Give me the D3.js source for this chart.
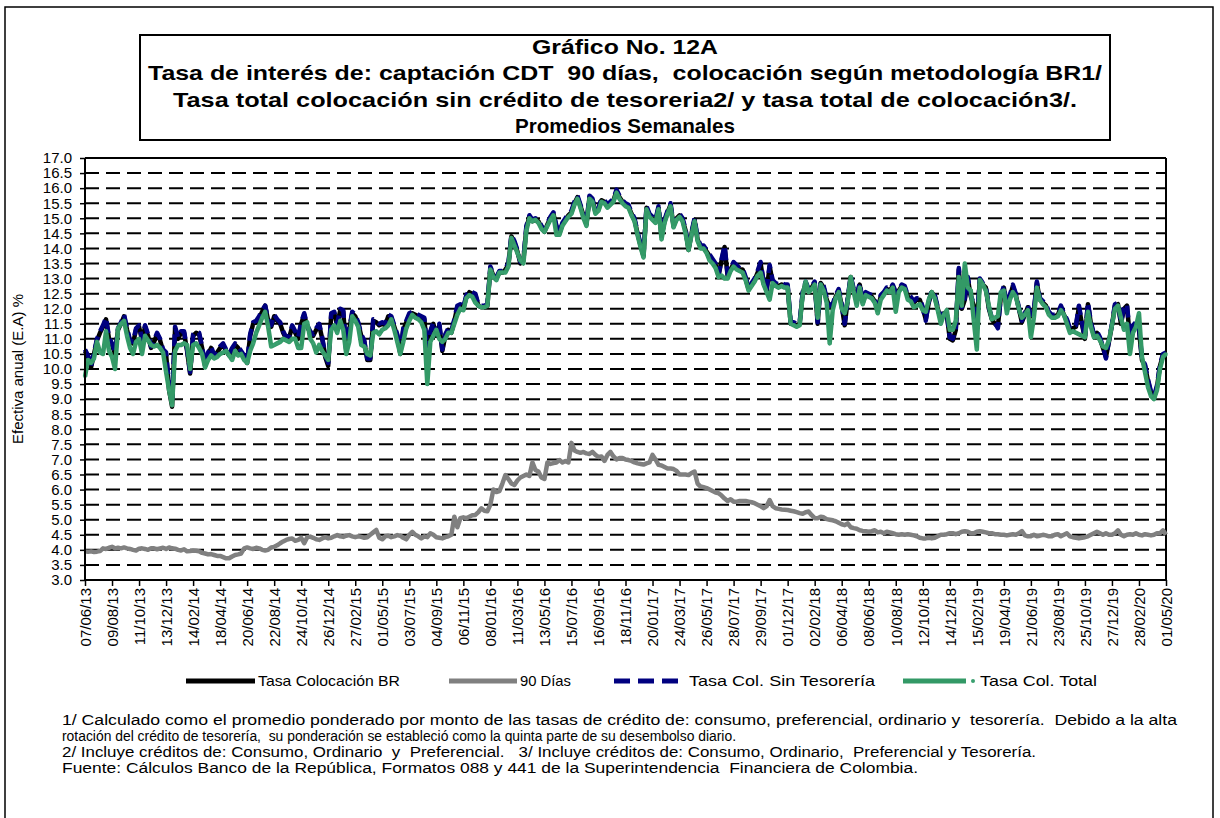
<!DOCTYPE html>
<html><head><meta charset="utf-8">
<script src="https://cdn.jsdelivr.net/npm/d3@7"></script>
<style>
body{margin:0;background:#fff;}
svg{display:block;}
text{font-family:"Liberation Sans",Arial,sans-serif;fill:#000;}
</style>
</head><body>
<svg id="c" width="1220" height="818"></svg>
<script>
// ---------- DATA ----------
const startDate = "2013-06-07"; // first weekly category
const tickLabels = ["07/06/13","09/08/13","11/10/13","13/12/13","14/02/14","18/04/14","20/06/14","22/08/14","24/10/14","26/12/14","27/02/15","01/05/15","03/07/15","04/09/15","06/11/15","08/01/16","11/03/16","13/05/16","15/07/16","16/09/16","18/11/16","20/01/17","24/03/17","26/05/17","28/07/17","29/09/17","01/12/17","02/02/18","06/04/18","08/06/18","10/08/18","12/10/18","14/12/18","15/02/19","19/04/19","21/06/19","23/08/19","25/10/19","27/12/19","28/02/20","01/05/20"];
const seriesNames = ["Tasa Colocación BR","90 Días","Tasa Col. Sin Tesorería","Tasa Col. Total"];

const tasaColocacionBR = [
10.6,10.4,10.05,10.5,10.95,11.2,11.4,11.65,11.0,10.8,
10.5,11.3,11.5,11.75,11.3,10.9,10.85,11.3,11.4,10.95,
11.4,11.1,10.7,10.9,11.15,10.95,10.6,10.5,9.3,8.75,
11.35,11.0,11.2,11.2,10.6,9.85,11.1,11.2,11.15,10.7,
10.1,10.5,10.7,10.4,10.55,10.7,10.8,10.6,10.45,10.65,
10.8,10.7,10.55,10.4,10.2,11.1,11.5,11.55,11.7,11.9,
12.1,11.6,11.4,11.75,11.6,11.5,11.2,11.0,11.05,11.4,
11.2,11.0,11.5,11.8,11.4,11.2,11.1,11.3,11.45,11.0,
10.4,10.1,11.8,11.85,11.45,11.95,11.9,10.6,11.3,11.85,
11.75,11.5,11.1,10.9,10.3,10.3,11.6,11.55,11.45,11.5,
11.45,11.75,11.7,11.4,11.1,10.5,11.3,11.55,11.8,11.85,
11.8,11.75,11.7,11.65,10.6,11.2,11.5,11.1,11.45,10.6,
11.1,11.3,11.2,11.6,12.05,12.1,12.0,12.4,12.55,12.5,
12.45,12.1,12.05,12.05,12.1,13.35,13.1,13.0,13.2,13.2,
13.3,13.45,14.4,14.2,13.9,13.5,13.6,14.7,15.05,14.9,
14.95,14.9,14.7,14.55,14.8,15.0,15.15,14.7,14.5,14.8,
14.95,15.1,15.2,15.5,15.7,15.4,15.1,14.8,15.7,15.6,
15.2,15.3,15.6,15.55,15.4,15.5,15.6,15.9,15.7,15.55,
15.45,15.4,15.15,14.95,14.5,14.1,13.75,15.35,15.1,15.0,
14.9,15.35,14.4,14.9,15.2,15.45,14.75,15.0,15.1,14.95,
14.6,13.95,14.5,14.95,14.3,14.05,14.05,13.9,13.75,13.6,
13.45,13.1,13.6,14.05,13.1,13.3,13.5,13.4,13.3,13.3,
13.0,12.65,12.8,12.95,13.2,13.5,12.85,12.6,13.4,12.9,
12.8,12.75,12.8,12.75,12.75,11.5,11.5,11.45,11.5,12.5,
12.85,12.6,12.7,12.85,11.5,12.85,12.7,12.3,12.05,12.1,
12.4,12.6,12.1,11.45,12.3,13.05,12.6,12.4,12.8,12.2,
12.5,12.45,12.4,12.25,12.0,12.4,12.5,12.65,12.6,12.75,
12.5,12.6,12.75,12.7,12.4,12.35,12.2,12.3,12.3,12.0,
11.65,12.2,12.55,12.4,12.0,11.65,11.85,11.8,11.0,10.95,
11.3,13.3,12.0,12.3,13.0,12.4,12.1,11.5,12.95,12.8,
12.7,12.0,11.65,11.5,11.4,12.4,12.7,12.05,12.4,12.75,
12.45,12.0,11.55,11.8,12.05,11.75,11.9,12.85,12.3,12.2,
12.1,11.85,11.75,11.75,11.8,12.05,11.8,11.6,11.3,11.35,
11.4,12.05,11.5,11.0,12.15,11.5,11.1,11.2,11.0,10.7,
10.4,10.9,11.45,12.1,12.15,11.5,12.0,12.1,11.0,11.4,
11.5,11.3,10.3,10.1,9.6,9.2,9.05,9.4,10.1,10.45,10.5];

const dias90 = [
3.95,3.94,3.95,3.93,3.94,3.96,4.05,4.03,4.07,4.1,
4.05,4.07,4.05,4.08,4.05,4.03,4.0,3.98,4.04,4.05,
4.03,4.0,4.05,4.05,4.02,4.05,4.07,4.03,4.08,4.05,
4.04,4.0,3.98,4.02,3.95,3.96,3.98,3.97,3.95,3.9,
3.88,3.85,3.86,3.83,3.8,3.8,3.76,3.72,3.72,3.78,
3.83,3.85,3.88,4.05,4.08,4.05,4.03,4.07,4.05,4.0,
3.98,4.0,4.08,4.1,4.15,4.22,4.28,4.33,4.36,4.38,
4.3,4.33,4.4,4.22,4.42,4.44,4.4,4.35,4.33,4.38,
4.42,4.38,4.4,4.45,4.49,4.45,4.43,4.47,4.49,4.45,
4.42,4.45,4.43,4.4,4.42,4.5,4.58,4.66,4.4,4.35,
4.45,4.47,4.42,4.45,4.49,4.47,4.4,4.35,4.5,4.6,
4.5,4.45,4.38,4.45,4.42,4.55,4.5,4.42,4.4,4.38,
4.42,4.45,4.5,5.1,4.75,5.05,5.08,5.05,5.1,5.15,
5.16,5.25,5.38,5.3,5.28,5.5,6.0,5.92,5.95,6.2,
6.48,6.35,6.2,6.15,6.3,6.4,6.45,6.5,6.45,6.9,
6.65,6.6,6.4,6.35,6.9,6.85,6.88,6.9,6.98,6.9,
6.95,6.9,7.55,7.3,7.25,7.22,7.25,7.2,7.18,7.25,
7.15,7.08,7.1,6.95,7.15,7.25,7.1,7.0,7.05,7.05,
7.0,6.98,6.95,6.9,6.87,6.85,6.83,6.87,6.9,7.15,
7.0,6.82,6.8,6.75,6.7,6.7,6.68,6.62,6.5,6.5,
6.5,6.48,6.55,6.6,6.2,6.1,6.08,6.05,6.0,5.95,
5.9,5.88,5.8,5.7,5.62,5.68,5.6,5.6,5.62,5.62,
5.62,5.6,5.58,5.55,5.5,5.45,5.38,5.45,5.65,5.45,
5.38,5.36,5.34,5.33,5.32,5.3,5.28,5.25,5.22,5.2,
5.25,5.27,5.15,5.05,5.05,5.1,5.08,5.02,5.0,4.98,
4.95,4.9,4.85,4.82,4.88,4.75,4.72,4.7,4.65,4.63,
4.62,4.6,4.62,4.65,4.58,4.6,4.55,4.6,4.58,4.55,
4.52,4.5,4.52,4.5,4.52,4.5,4.48,4.45,4.4,4.38,
4.38,4.4,4.38,4.4,4.45,4.5,4.5,4.52,4.55,4.55,
4.52,4.55,4.6,4.62,4.6,4.55,4.55,4.6,4.62,4.6,
4.58,4.55,4.55,4.52,4.52,4.5,4.5,4.48,4.5,4.52,
4.5,4.55,4.62,4.48,4.45,4.45,4.5,4.45,4.47,4.5,
4.48,4.45,4.45,4.5,4.52,4.45,4.5,4.55,4.45,4.42,
4.4,4.38,4.4,4.42,4.45,4.5,4.55,4.6,4.55,4.5,
4.55,4.5,4.5,4.55,4.65,4.5,4.45,4.5,4.52,4.5,
4.55,4.5,4.48,4.52,4.5,4.48,4.5,4.55,4.55,4.65,4.5];

const tasaColSinTesoreria = [
10.65,10.45,10.1,10.55,11.0,11.25,11.45,11.7,11.05,10.85,
10.55,11.35,11.55,11.8,11.35,10.95,10.9,11.35,11.45,11.0,
11.45,11.15,10.75,10.95,11.2,11.0,10.65,10.55,9.45,9.0,
11.4,11.05,11.25,11.25,10.65,9.9,11.15,11.25,11.2,10.75,
10.15,10.55,10.75,10.45,10.6,10.75,10.85,10.65,10.5,10.7,
10.85,10.75,10.6,10.45,10.25,11.15,11.55,11.6,11.75,11.95,
12.1,11.65,11.45,11.8,11.65,11.55,11.25,11.05,11.1,11.45,
11.25,11.05,11.55,11.85,11.45,11.25,11.15,11.35,11.5,11.05,
10.45,10.2,11.85,11.9,11.5,12.0,11.95,10.65,11.35,11.9,
11.8,11.55,11.15,10.95,10.35,10.35,11.65,11.6,11.5,11.55,
11.5,11.8,11.75,11.45,11.15,10.55,11.35,11.6,11.85,11.9,
11.85,11.8,11.75,11.7,10.65,11.25,11.55,11.15,11.5,10.65,
11.15,11.35,11.25,11.65,12.1,12.15,12.05,12.45,12.6,12.55,
12.5,12.15,12.1,12.1,12.15,13.4,13.15,13.05,13.25,13.25,
13.35,13.5,14.45,14.25,13.95,13.55,13.65,14.75,15.1,14.95,
15.0,14.95,14.75,14.6,14.85,15.05,15.2,14.75,14.55,14.85,
15.0,15.15,15.25,15.55,15.75,15.45,15.15,14.85,15.75,15.65,
15.25,15.35,15.65,15.6,15.45,15.55,15.65,15.95,15.75,15.6,
15.5,15.45,15.2,15.0,14.55,14.15,13.8,15.4,15.15,15.05,
14.95,15.4,14.45,14.95,15.25,15.5,14.8,15.05,15.15,15.0,
14.65,14.0,14.55,15.0,14.35,14.1,14.1,13.95,13.8,13.65,
13.5,13.15,13.65,14.1,13.15,13.35,13.55,13.45,13.35,13.35,
13.05,12.7,12.85,13.0,13.25,13.55,12.9,12.65,13.45,12.95,
12.85,12.8,12.85,12.8,12.8,11.55,11.55,11.5,11.55,12.55,
12.9,12.65,12.75,12.9,11.55,12.9,12.75,12.35,12.1,12.15,
12.45,12.65,12.15,11.5,12.35,13.1,12.65,12.45,12.85,12.25,
12.55,12.5,12.45,12.3,12.05,12.45,12.55,12.7,12.65,12.8,
12.55,12.65,12.8,12.75,12.45,12.4,12.25,12.35,12.35,12.05,
11.6,12.25,12.6,12.45,12.05,11.7,11.9,11.85,11.05,11.0,
11.35,13.35,12.05,12.35,13.05,12.45,12.15,11.55,13.0,12.85,
12.75,12.05,11.7,11.55,11.35,12.45,12.75,12.1,12.45,12.8,
12.5,12.05,11.6,11.85,12.1,11.8,11.95,12.9,12.35,12.25,
12.15,11.9,11.8,11.8,11.85,12.1,11.85,11.65,11.35,11.4,
11.45,12.1,11.55,11.05,12.2,11.55,11.15,11.25,11.05,10.75,
10.35,10.95,11.5,12.15,12.2,11.55,12.05,12.15,11.05,11.45,
11.55,11.4,10.35,10.15,9.65,9.25,9.1,9.45,10.15,10.5,10.55];

const tasaColTotal = [
9.75,10.3,10.2,10.35,10.9,10.55,10.5,11.25,10.6,10.4,
10.0,11.35,11.5,11.6,11.1,10.7,10.5,10.9,11.0,10.5,
11.1,10.95,10.8,10.75,10.8,10.7,10.55,9.9,9.3,8.8,
10.6,10.8,10.8,10.85,10.8,10.0,10.8,10.85,10.7,10.5,
10.05,10.3,10.45,10.35,10.4,10.5,10.55,10.6,10.45,10.3,
10.6,10.45,10.5,10.3,10.2,10.6,10.85,11.2,11.45,11.7,
11.9,11.4,10.75,10.8,10.85,10.9,11.0,10.95,10.9,11.0,
11.0,10.7,10.7,11.5,11.55,11.0,10.85,10.55,10.8,10.6,
10.45,10.3,11.3,11.45,11.2,11.6,11.3,10.5,10.9,11.75,
11.6,11.4,10.8,10.75,10.5,10.45,11.2,11.25,11.15,11.3,
11.35,11.45,11.65,11.3,10.9,10.5,10.9,11.35,11.6,11.8,
11.7,11.65,11.55,11.3,9.5,10.9,11.1,11.3,11.0,10.9,
11.0,11.2,11.2,11.5,11.8,12.0,11.95,12.35,12.45,12.4,
12.2,12.1,12.05,12.05,12.1,13.3,13.05,12.95,13.2,13.2,
13.2,13.4,14.35,14.1,13.85,13.6,13.5,14.6,15.0,14.9,
14.95,14.85,14.65,14.55,14.75,14.95,15.1,14.45,14.45,14.75,
14.9,15.05,15.15,15.45,15.65,15.35,15.0,14.75,15.65,15.55,
15.15,15.25,15.55,15.5,15.35,15.45,15.55,15.85,15.65,15.5,
15.4,15.35,15.1,14.9,14.45,14.05,13.7,15.3,15.05,14.95,
14.85,15.3,14.3,14.85,15.15,15.4,14.7,14.95,15.05,14.9,
14.5,13.95,14.45,14.9,14.25,14.0,14.0,13.85,13.6,13.5,
13.35,13.05,13.1,13.0,13.0,13.25,13.4,13.3,13.25,13.2,
12.95,12.6,12.75,12.9,13.1,13.2,12.8,12.55,12.3,12.85,
12.75,12.7,12.75,12.7,12.7,11.5,11.45,11.4,11.45,12.45,
12.9,12.55,12.65,12.8,11.7,12.8,12.6,12.2,10.85,11.95,
12.35,12.55,12.0,11.85,12.25,13.05,12.55,12.1,12.7,12.15,
12.45,12.4,12.35,12.2,11.85,12.3,12.45,12.6,12.55,12.7,
11.9,12.55,12.7,12.65,12.3,12.25,12.05,12.1,12.15,11.95,
11.9,12.3,12.55,12.35,11.95,11.5,11.8,11.95,11.3,11.3,
11.6,13.05,12.1,13.5,12.7,12.6,11.6,10.65,12.95,12.8,
12.6,12.1,11.65,11.7,11.75,12.55,12.6,11.85,12.3,12.55,
12.4,12.0,11.7,11.8,11.95,11.05,11.7,12.7,12.3,12.15,
12.05,11.8,11.7,11.7,11.75,11.95,11.8,11.5,11.2,11.25,
11.2,11.15,11.1,11.05,11.9,11.4,11.05,11.1,10.95,10.75,
10.7,10.95,11.45,12.0,12.1,11.7,11.3,11.5,10.5,11.2,
11.4,11.85,10.4,9.9,9.4,9.1,9.0,9.3,10.0,10.4,10.5];

const footnotes = [
 "1/ Calculado como el promedio ponderado por monto de las tasas de crédito de: consumo, preferencial, ordinario y  tesorería.  Debido a la alta",
 "rotación del crédito de tesorería,  su ponderación se estableció como la quinta parte de su desembolso diario.",
 "2/ Incluye créditos de: Consumo, Ordinario  y  Preferencial.   3/ Incluye créditos de: Consumo, Ordinario,  Preferencial y Tesorería.",
 "Fuente: Cálculos Banco de la República, Formatos 088 y 441 de la Superintendencia  Financiera de Colombia."
];
const titleLines = [
 "Gráfico No. 12A",
 "Tasa de interés de: captación CDT  90 días,  colocación según metodología BR1/",
 "Tasa total colocación sin crédito de tesoreria2/ y tasa total de colocación3/.",
 "Promedios Semanales"
];

// ---------- DRAW ----------
const svg = d3.select("#c");
const L = 85, R = 1166, T = 158, B = 580;
const n = tasaColocacionBR.length;
const x = d3.scaleLinear().domain([0, n - 1]).range([L, R]);
const y = d3.scaleLinear().domain([3, 17]).range([B, T]);

const fmt = d3.timeFormat("%d/%m/%y");
const t0 = d3.timeParse("%Y-%m-%d")(startDate);
const dates = d3.range(n).map(i => d3.timeDay.offset(t0, 7 * i));
let tickIdx = dates.map((d, i) => tickLabels.indexOf(fmt(d)) >= 0 ? i : -1).filter(i => i >= 0);
if (tickIdx.length !== tickLabels.length) tickIdx = tickLabels.map((_, k) => k * 9);

// outer frame
svg.append("rect").attr("x", 5).attr("y", 7).attr("width", 1208).attr("height", 840)
  .attr("fill", "none").attr("stroke", "#000").attr("stroke-width", 1.5);

// title box
svg.append("rect").attr("x", 140).attr("y", 35).attr("width", 970).attr("height", 105)
  .attr("fill", "#fff").attr("stroke", "#000").attr("stroke-width", 2);
const tY = [54, 80, 107, 133];
const tW = [186, 954, 904, 220];
titleLines.forEach((t, i) => {
  svg.append("text").attr("x", 625).attr("y", tY[i]).attr("text-anchor", "middle")
    .style("font-size", "21px").style("font-weight", "bold").style("white-space", "pre")
    .attr("textLength", tW[i]).attr("lengthAdjust", "spacingAndGlyphs").text(t);
});

// gridlines
const gridVals = d3.range(7, 34).map(d => d / 2);
svg.append("g").selectAll("line").data(gridVals).join("line")
  .attr("x1", L).attr("x2", R).attr("y1", d => y(d)).attr("y2", d => y(d))
  .attr("stroke", "#000").attr("stroke-width", 2).attr("stroke-dasharray", "14,7");

// plot frame top/right
svg.append("line").attr("x1", L).attr("x2", R).attr("y1", T).attr("y2", T).attr("stroke", "#000").attr("stroke-width", 2);
svg.append("line").attr("x1", R).attr("x2", R).attr("y1", T).attr("y2", B).attr("stroke", "#000").attr("stroke-width", 2);

// series
const line = data => d3.line().x((d, i) => x(i)).y(d => y(d))(data);
const g = svg.append("g").attr("fill", "none").attr("stroke-linejoin", "round");
g.append("path").attr("d", line(tasaColocacionBR)).attr("stroke", "#000").attr("stroke-width", 4.5);
g.append("path").attr("d", line(dias90)).attr("stroke", "#808080").attr("stroke-width", 4.5);
g.append("path").attr("d", line(tasaColSinTesoreria)).attr("stroke", "#000080").attr("stroke-width", 4.5).attr("stroke-dasharray", "12,6");
g.append("path").attr("d", line(tasaColTotal)).attr("stroke", "#339966").attr("stroke-width", 4.5);
svg.append("g").selectAll("circle").data(tasaColTotal).join("circle")
  .attr("cx", (d, i) => x(i)).attr("cy", d => y(d)).attr("r", 1.8).attr("fill", "#3aa070");

// axes
const yAxis = svg.append("g").attr("transform", `translate(${L},0)`)
  .call(d3.axisLeft(y).tickValues(d3.range(6, 35).map(d => d / 2)).tickSize(5).tickFormat(d3.format(".1f")));
yAxis.select(".domain").attr("stroke-width", 2).attr("d", `M0,${T}V${B}`);
yAxis.selectAll(".tick line").attr("stroke-width", 1.5);
yAxis.selectAll("text").attr("x", -13).style("font-size", "15px").style("font-family", "'Liberation Sans',Arial,sans-serif");

const xAxis = svg.append("g").attr("transform", `translate(0,${B})`)
  .call(d3.axisBottom(x).tickValues(tickIdx).tickSize(6).tickFormat((d, k) => tickLabels[k]));
xAxis.select(".domain").attr("stroke-width", 2).attr("d", `M${L},0H${R}`);
xAxis.selectAll(".tick line").attr("stroke-width", 1.5);
xAxis.selectAll("text").attr("transform", "rotate(-90)").attr("text-anchor", "end")
  .attr("x", -8).attr("y", 0).attr("dy", "0.35em")
  .style("font-size", "15px").style("font-family", "'Liberation Sans',Arial,sans-serif");

// y title
svg.append("text").attr("transform", "translate(23,369) rotate(-90)").attr("text-anchor", "middle")
  .style("font-size", "15px").text("Efectiva anual (E.A) %");

// legend
const ly = 681;
const lg = svg.append("g");
const legendItems = [
  {x1: 186, x2: 255, tx: 258, tw: 142, color: "#000", dash: null},
  {x1: 449, x2: 517, tx: 520, tw: 51, color: "#808080", dash: null},
  {x1: 614, x2: 678, tx: 689, tw: 186, color: "#000080", dash: "16,8"},
  {x1: 903, x2: 966, tx: 980, tw: 117, color: "#339966", dash: null, dot: 973}
];
legendItems.forEach((it, i) => {
  lg.append("line").attr("x1", it.x1).attr("x2", it.x2).attr("y1", ly).attr("y2", ly)
    .attr("stroke", it.color).attr("stroke-width", 5).attr("stroke-dasharray", it.dash);
  if (it.dot) lg.append("circle").attr("cx", it.dot).attr("cy", ly).attr("r", 2).attr("fill", "#3aa070");
  lg.append("text").attr("x", it.tx).attr("y", ly + 5).style("font-size", "15px")
    .attr("textLength", it.tw).attr("lengthAdjust", "spacingAndGlyphs").text(seriesNames[i]);
});

// footnotes
const fnW = [1115, 674, 974, 856];
footnotes.forEach((t, i) => {
  svg.append("text").attr("x", 62).attr("y", 725 + i * 16).style("font-size", "14px")
    .style("white-space", "pre").attr("textLength", fnW[i]).attr("lengthAdjust", "spacingAndGlyphs").text(t);
});
</script>
</body></html>
